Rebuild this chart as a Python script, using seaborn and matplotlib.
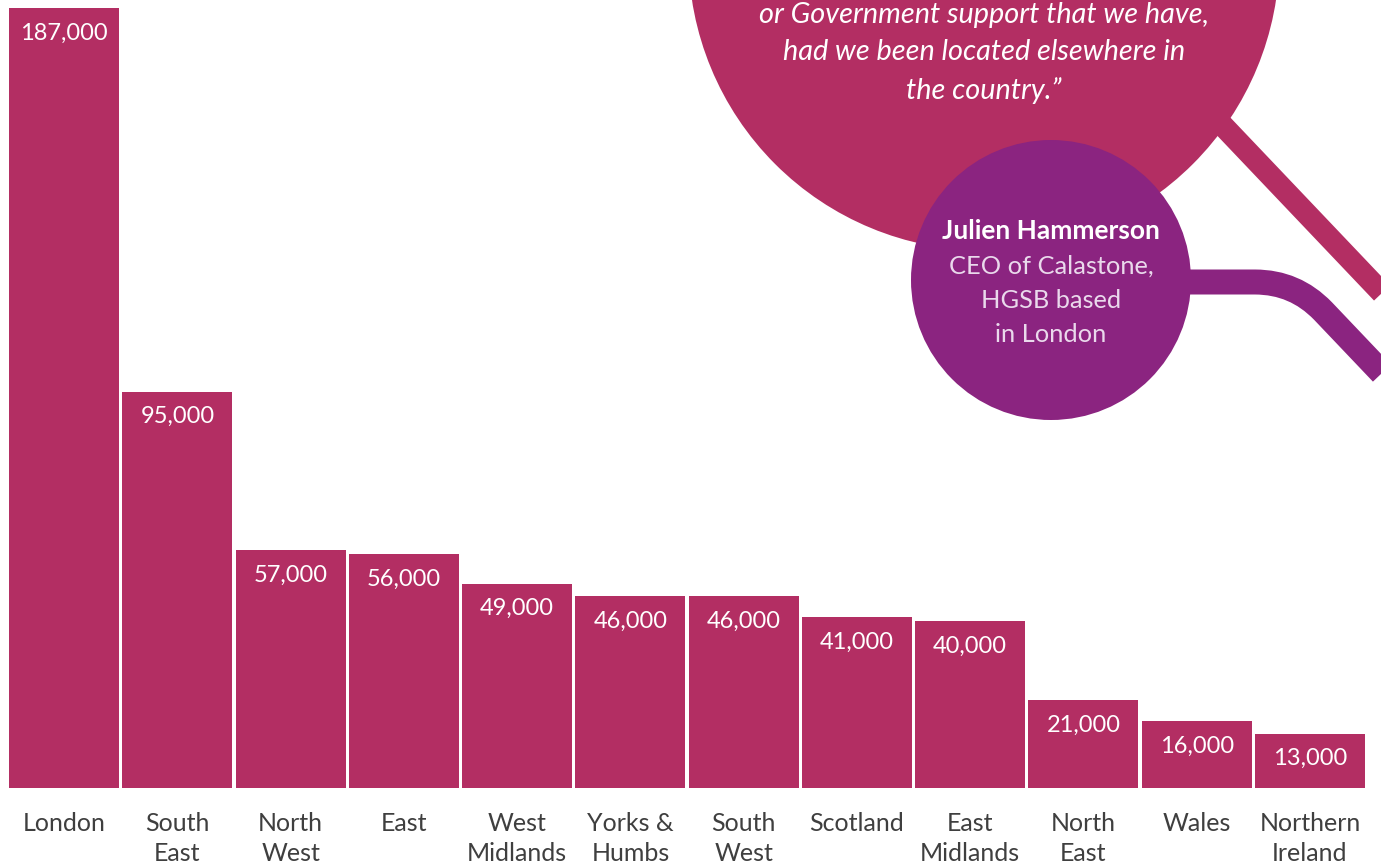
import numpy as np
import pandas as pd
import matplotlib as mpl
import matplotlib.pyplot as plt
import matplotlib.patches as mpatches
from matplotlib.path import Path
import seaborn as sns

regions = ['London', 'South\nEast', 'North\nWest', 'East', 'West\nMidlands', 'Yorks &\nHumbs',
           'South\nWest', 'Scotland', 'East\nMidlands', 'North\nEast', 'Wales', 'Northern\nIreland']
businesses = [187000, 95000, 57000, 56000, 49000, 46000, 46000, 41000, 40000, 21000, 16000, 13000]

quote_lines = ['or Government support that we have,',
               'had we been located elsewhere in',
               'the country.\u201d']
person_name = 'Julien Hammerson'
person_role = ['CEO of Calastone,', 'HGSB based', 'in London']

bar_color = '#B32E63'
purple = '#8B2480'
label_grey = '#3F3F3F'

sns.set_style('white')
plt.rcParams['font.family'] = ['Lato', 'DejaVu Sans']

W, H = 1381, 864
fig = plt.figure(figsize=(W / 100, H / 100), dpi=100)
fig.patch.set_facecolor('white')

# bar area in pixel terms: bars from x=9 to 1365, baseline y=788, London top y=8
ax = fig.add_axes([7.5 / W, (H - 788) / H, 1359 / W, 780 / H])
df = pd.DataFrame({'region': regions, 'value': businesses})
sns.barplot(data=df, x='region', y='value', color=bar_color, saturation=1,
            width=0.973, linewidth=0, ax=ax)
ax.set_xlim(-0.5, len(regions) - 0.5)
ax.set_ylim(0, max(businesses))
for s in ax.spines.values():
    s.set_visible(False)
ax.set_yticks([])
ax.set_ylabel('')
ax.set_xlabel('')
ax.tick_params(axis='x', length=0, pad=17.2, labelsize=18, labelcolor=label_grey)
for lab in ax.get_xticklabels():
    lab.set_linespacing(1.38)
ax.patch.set_alpha(0)

for i, v in enumerate(businesses):
    ax.annotate(f'{v:,}', xy=(i, v), xytext=(0, -25 * 0.72), textcoords='offset points',
                ha='center', va='center', color='white', fontsize=17)

# decoration overlay in pixel coordinates (y down)
deco = fig.add_axes([0, 0, 1, 1], zorder=-1)
deco.set_xlim(0, W)
deco.set_ylim(H, 0)
deco.axis('off')

# pink stripe from the big circle
deco.plot([1150, 1460], [49, 375], color=bar_color, lw=22 * 0.72, solid_capstyle='butt')
deco.add_patch(mpatches.Circle((984, -45), 295.5, color=bar_color, lw=0))

# purple stripe with rounded bend
verts = [(1150, 282), (1255, 282), (1295, 282), (1323, 311), (1440, 434)]
codes = [Path.MOVETO, Path.LINETO, Path.CURVE3, Path.CURVE3, Path.LINETO]
deco.add_patch(mpatches.PathPatch(Path(verts, codes), fill=False, edgecolor=purple,
                                  lw=25 * 0.72, capstyle='butt', joinstyle='round'))
deco.add_patch(mpatches.Circle((1051, 280), 140, color=purple, lw=0))

for k, line in enumerate(quote_lines):
    deco.text(984, 14.5 + 38 * k, line, ha='center', va='center', color='white',
              fontsize=20.8, style='italic')

deco.text(1051, 231, person_name, ha='center', va='center', color='white',
          fontsize=19, fontweight='bold')
for k, line in enumerate(person_role):
    deco.text(1051, 266 + 34.5 * k, line, ha='center', va='center', color='#EAD9EC',
              fontsize=18.3)

mpl.rcParams['pdf.fonttype'] = 42
fig.savefig('out.png', dpi=100)
plt.close(fig)
